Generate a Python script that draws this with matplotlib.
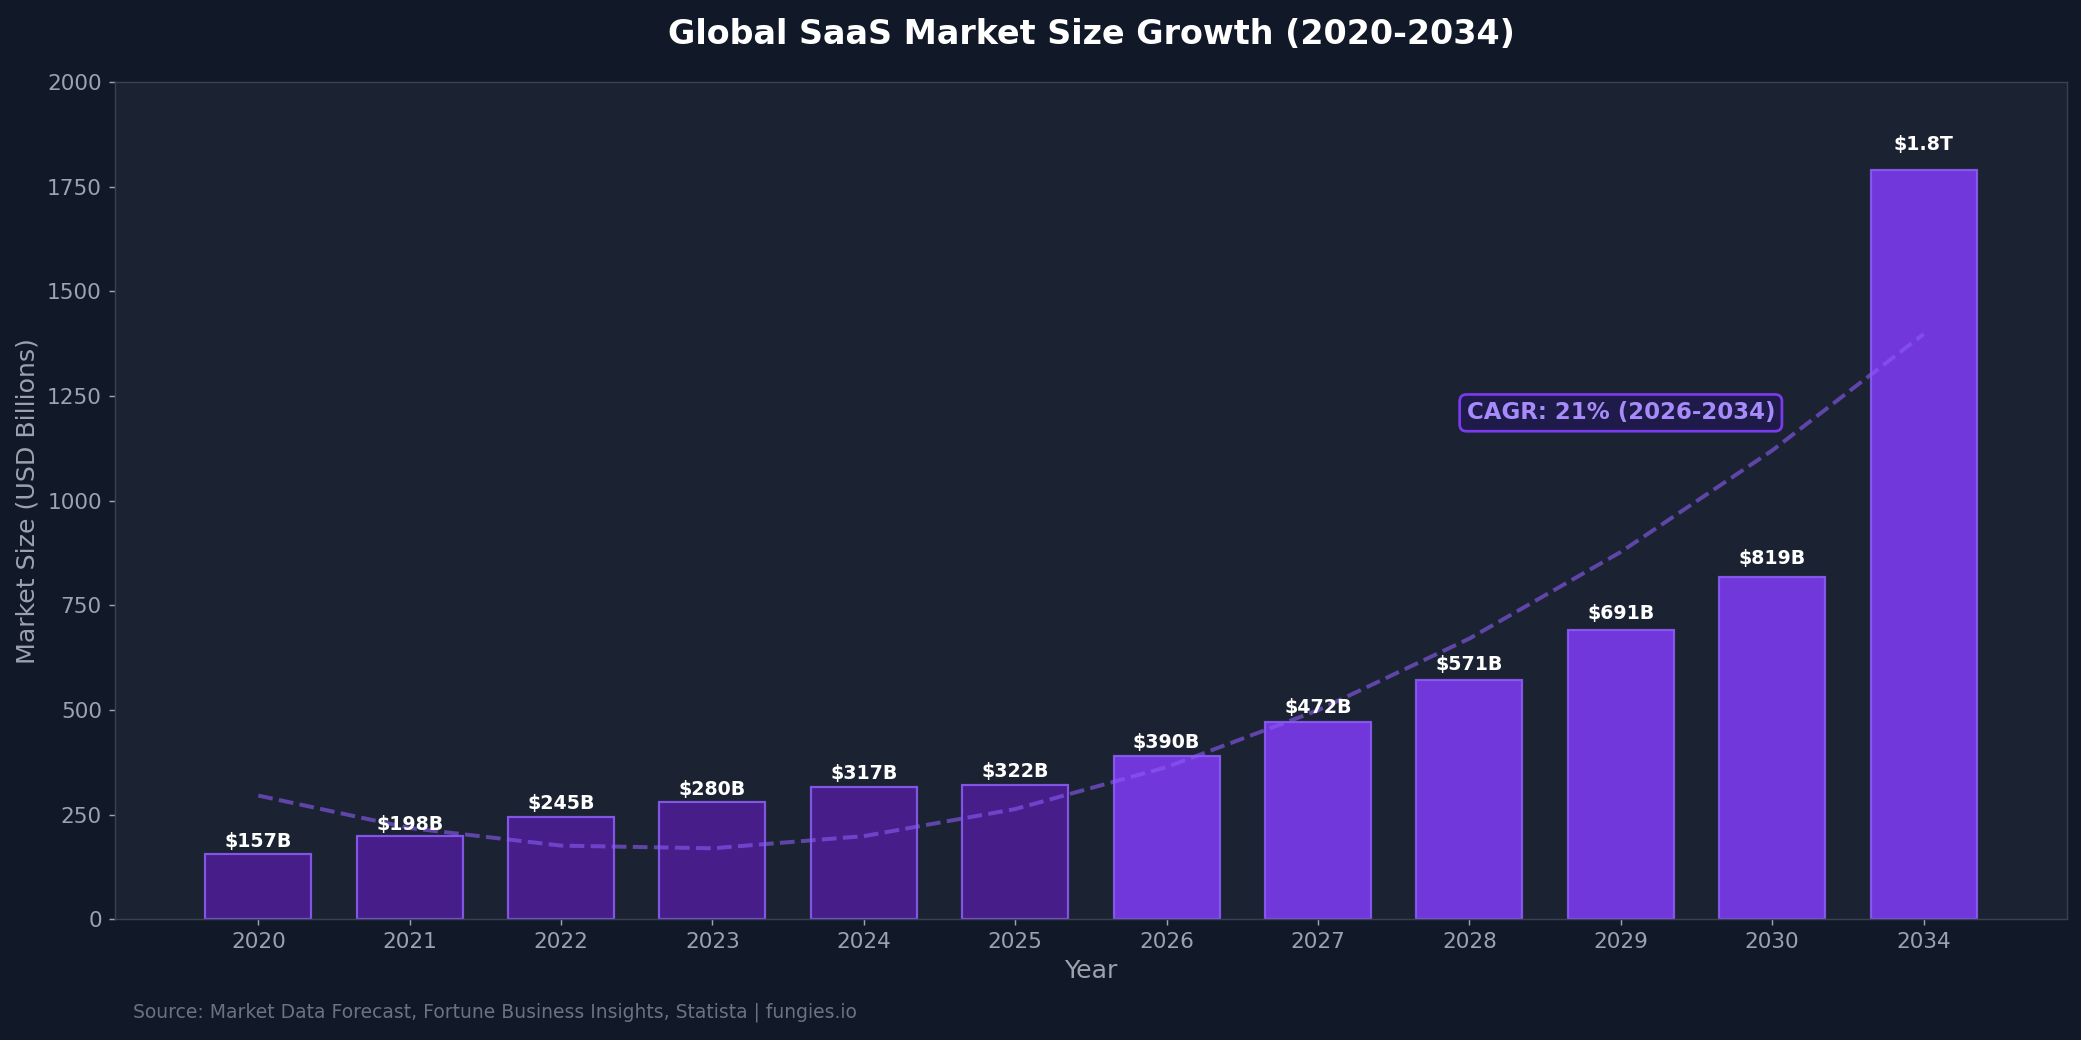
import numpy as np
import matplotlib
matplotlib.use("Agg")
from matplotlib import pyplot as plt

years = ["2020", "2021", "2022", "2023", "2024", "2025", "2026", "2027", "2028", "2029", "2030", "2034"]
market_size = [157, 198, 245, 280, 317, 322, 390, 472, 571, 691, 819, 1790]
value_labels = ["$157B", "$198B", "$245B", "$280B", "$317B", "$322B", "$390B", "$472B",
                "$571B", "$691B", "$819B", "$1.8T"]
forecast_start = 6

bg = "#111827"
panel = "#1b2332"
fig, ax = plt.subplots(figsize=(16.015, 8), dpi=130)
fig.patch.set_facecolor(bg)
ax.set_facecolor(panel)

x = np.arange(len(years))
colors = ["#4c1d95" if i < forecast_start else "#7c3aed" for i in range(len(years))]
bars = ax.bar(x, market_size, width=0.7, color=colors, alpha=0.9,
              edgecolor="#8b5cf6", linewidth=1.2, zorder=2)

for b, lab in zip(bars, value_labels):
    h = b.get_height()
    ax.text(b.get_x() + b.get_width() / 2, h + 3 + h * 0.02, lab,
            ha="center", va="bottom", color="white", fontsize=10.5, fontweight="bold", zorder=4)

# trend line - quadratic fit
coef = np.polyfit(x, market_size, 2)
ax.plot(x, np.polyval(coef, x), "--", color="#8b5cf6", alpha=0.6, linewidth=2.2, zorder=3)

ax.text(9.0, 1210, "CAGR: 21% (2026-2034)", ha="center", va="center", fontsize=12.7,
        fontweight="bold", color="#a78bfa", zorder=5,
        bbox=dict(boxstyle="round,pad=0.3", facecolor="#1e1b4b", edgecolor="#7c3aed", linewidth=1.5))

ax.set_xticks(x)
ax.set_xticklabels(years)
ax.set_xlim(-0.95, 11.95)
ax.set_ylim(0, 2000)
ax.tick_params(colors="#9ca3af", labelsize=12)
for s in ax.spines.values():
    s.set_color("#374151")
ax.set_xlabel("Year", color="#9ca3af", fontsize=14)
ax.set_ylabel("Market Size (USD Billions)", color="#9ca3af", fontsize=14)
ax.set_title("Global SaaS Market Size Growth (2020-2034)", color="white", fontsize=18.5,
             fontweight="bold", pad=21)

fig.text(0.064, 0.022, "Source: Market Data Forecast, Fortune Business Insights, Statista | fungies.io",
         color="#6b7280", fontsize=10.4)

plt.subplots_adjust(left=0.055, right=0.993, top=0.921, bottom=0.116)
plt.savefig("out.png", facecolor=bg)
